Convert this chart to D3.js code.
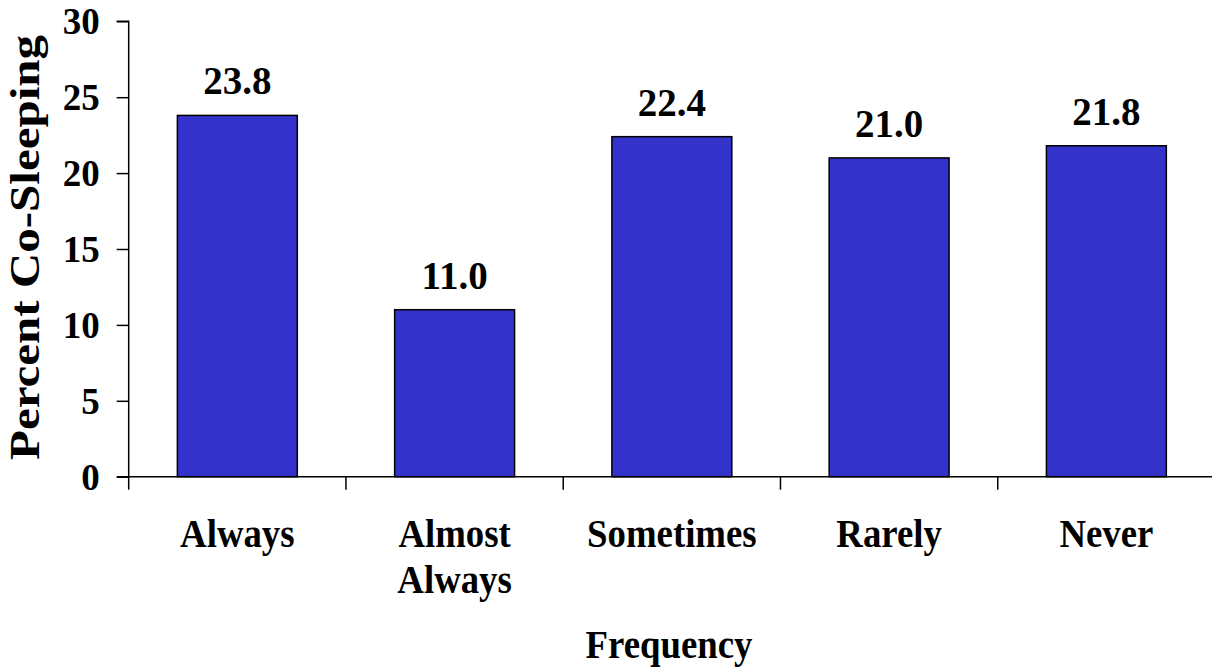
<!DOCTYPE html>
<html>
<head>
<meta charset="utf-8">
<script src="https://cdn.jsdelivr.net/npm/d3@7"></script>
<style>
  body { margin: 0; background: #fff; }
  text { font-family: "Liberation Serif", "Times New Roman", serif; font-weight: bold; fill: #000; }
</style>
</head>
<body>
<script>
// chart data
var categories = ["Always", "Almost Always", "Sometimes", "Rarely", "Never"];
var percents = [23.8, 11.0, 22.4, 21.0, 21.8];
var yTicks = [0, 5, 10, 15, 20, 25, 30];

var width = 1212, height = 671;
var plot = {left: 128.7, right: 1215, top: 21.3, bottom: 476.7};

var svg = d3.select("body").append("svg")
    .attr("width", width)
    .attr("height", height);

var x = d3.scaleBand()
    .domain(categories)
    .range([plot.left, plot.right])
    .paddingInner(0.448)
    .paddingOuter(0.224);

var y = d3.scaleLinear()
    .domain([0, 30])
    .range([plot.bottom, plot.top]);

// bars
svg.selectAll("rect.bar")
    .data(percents)
  .enter().append("rect")
    .attr("class", "bar")
    .attr("x", function(d, i) { return x(categories[i]); })
    .attr("y", function(d) { return y(d); })
    .attr("width", x.bandwidth())
    .attr("height", function(d) { return y(0) - y(d); })
    .attr("fill", "#3333cc")
    .attr("stroke", "#000")
    .attr("stroke-width", 1.5);

// value labels
svg.selectAll("text.value")
    .data(percents)
  .enter().append("text")
    .attr("class", "value")
    .attr("x", function(d, i) { return x(categories[i]) + x.bandwidth() / 2; })
    .attr("y", function(d) { return y(d) - 21; })
    .attr("text-anchor", "middle")
    .style("font-size", "39px")
    .text(function(d) { return d.toFixed(1); });

// y axis
var yAxis = svg.append("g")
    .attr("transform", "translate(" + plot.left + ",0)")
    .call(d3.axisLeft(y).tickValues(yTicks).tickSize(12).tickPadding(17));
yAxis.selectAll("text").style("font-size", "37px").attr("dy", "0.34em");
yAxis.selectAll("line, path").attr("stroke", "#000").attr("stroke-width", 1.5);
yAxis.select(".domain").attr("d", "M-12," + plot.top + "H0V" + plot.bottom);

// x axis: ticks sit between categories
var xAxis = svg.append("g")
    .attr("transform", "translate(0," + plot.bottom + ")");
xAxis.append("line")
    .attr("x1", plot.left - 12).attr("x2", plot.right)
    .attr("stroke", "#000").attr("stroke-width", 1.5);
var step = x.step();
xAxis.selectAll("line.tick")
    .data(d3.range(categories.length + 1))
  .enter().append("line")
    .attr("class", "tick")
    .attr("x1", function(i) { return plot.left + i * step; })
    .attr("x2", function(i) { return plot.left + i * step; })
    .attr("y1", 0).attr("y2", 13)
    .attr("stroke", "#000").attr("stroke-width", 1.5);

// category labels (wrapped on spaces for "Almost Always")
var catText = svg.selectAll("text.cat")
    .data(categories)
  .enter().append("text")
    .attr("class", "cat")
    .attr("text-anchor", "middle")
    .style("font-size", "40px")
    .attr("transform", function(d) {
      return "translate(" + (x(d) + x.bandwidth() / 2) + ",547) scale(0.92,1)";
    });
catText.each(function(d) {
  var words = d === "Almost Always" ? ["Almost", "Always"] : [d];
  var t = d3.select(this);
  words.forEach(function(w, k) {
    t.append("tspan").attr("x", 0).attr("y", k * 46).text(w);
  });
});

// axis titles
svg.append("text")
    .attr("transform", "translate(669,658) scale(0.92,1)")
    .attr("text-anchor", "middle")
    .style("font-size", "40px")
    .text("Frequency");

svg.append("text")
    .attr("transform", "translate(39,247.5) rotate(-90)")
    .attr("text-anchor", "middle")
    .attr("textLength", 425)
    .attr("lengthAdjust", "spacingAndGlyphs")
    .style("font-size", "42px")
    .text("Percent Co-Sleeping");
</script>
</body>
</html>
